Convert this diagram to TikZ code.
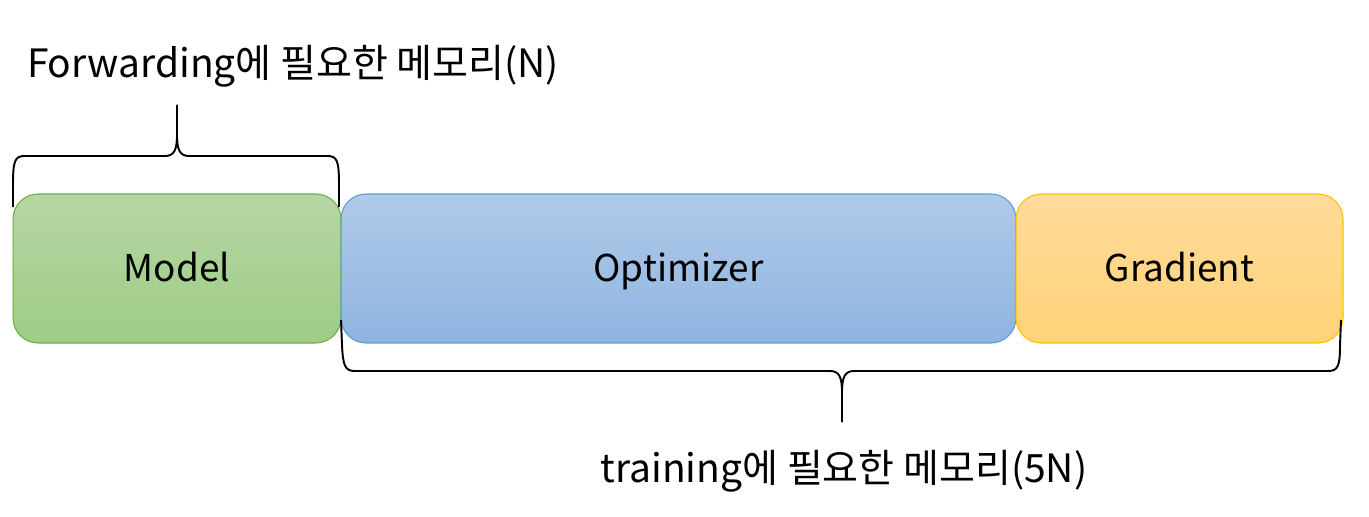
\documentclass[tikz,border=0pt]{standalone}
\usepackage{fontspec}
\setmainfont{Noto Sans CJK KR}
\begin{document}
\begin{tikzpicture}[x=0.02cm,y=-0.02cm,
  block/.style={rounded corners=0.5cm, line width=0.6pt, minimum height=2.98cm, inner sep=0pt, text height=15.3pt, text depth=0pt, font=\fontsize{21}{25}\selectfont, text=black},
  greenbox/.style={block, draw={rgb,255:red,112;green,173;blue,71}, top color={rgb,255:red,182;green,214;blue,164}, bottom color={rgb,255:red,159;green,204;blue,133}},
  bluebox/.style={block, draw={rgb,255:red,91;green,155;blue,213}, top color={rgb,255:red,176;green,202;blue,233}, bottom color={rgb,255:red,143;green,180;blue,224}},
  orangebox/.style={block, draw={rgb,255:red,255;green,192;blue,0}, top color={rgb,255:red,255;green,219;blue,155}, bottom color={rgb,255:red,255;green,211;blue,120}},
  bracel/.style={line width=1.1pt, black},
  lbl/.style={font=\fontsize{22.2}{26}\selectfont, inner sep=0pt, text height=16.2pt, text depth=0pt}]
\useasboundingbox (0,0) rectangle (1369,517);
\node[greenbox, minimum width=6.56cm] (model) at (177,268.5) {Model};
\node[bluebox, minimum width=13.5cm] (opt) at (678.5,268.5) {Optimizer};
\node[orangebox, minimum width=6.54cm] (grad) at (1179.5,268.5) {Gradient};
% top brace
\coordinate (tl) at (13,207);
\coordinate (tt) at (177,105);
\coordinate (tr) at (339,207);
\draw[bracel] (tl) -- (13,185) .. controls (13,160) and (15,156) .. (25,156) -- (165,156)
  .. controls (174,156) and (177,150) .. (177,135) -- (tt);
\draw[bracel] (tt) -- (177,135) .. controls (177,150) and (180,156) .. (189,156) -- (327,156)
  .. controls (337,156) and (339,160) .. (339,185) -- (tr);
% bottom brace
\coordinate (bl) at (341,320);
\coordinate (bt) at (842,422);
\coordinate (br) at (1341,320);
\draw[bracel] (bl) -- (342,345) .. controls (343,366) and (345,371) .. (355,371) -- (830,371)
  .. controls (839,371) and (842,377) .. (842,392) -- (bt);
\draw[bracel] (bt) -- (842,392) .. controls (842,377) and (845,371) .. (854,371) -- (1328,371)
  .. controls (1338,371) and (1340,366) .. (1340,345) -- (br);
\node[lbl] (ftext) at (293,63) {Forwarding에 필요한 메모리(N)};
\node[lbl] (ttext) at (844,468) {training에 필요한 메모리(5N)};
\end{tikzpicture}
\end{document}
